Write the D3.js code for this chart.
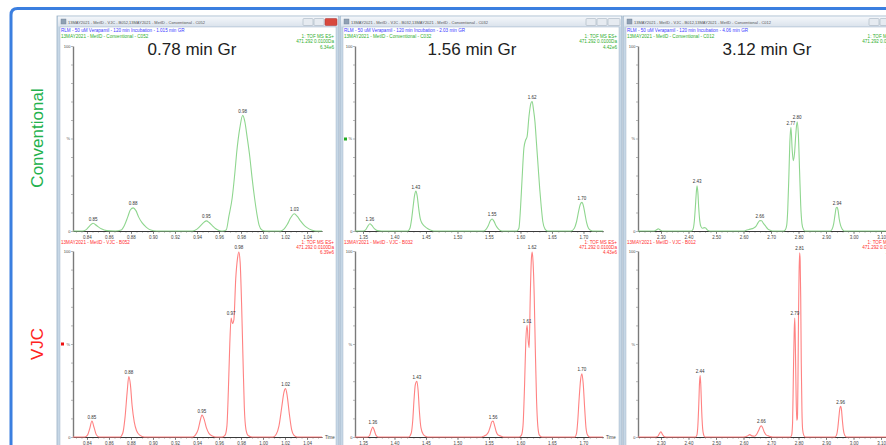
<!DOCTYPE html>
<html><head><meta charset="utf-8">
<script src="https://cdn.jsdelivr.net/npm/d3@7"></script>
<style>html,body{margin:0;padding:0;background:#fff;overflow:hidden}svg{display:block}</style>
</head><body>
<svg id="c" width="886" height="445"></svg>
<script>
// ---------------- DATA ----------------
const panelTitles = ["0.78 min Gr", "1.56 min Gr", "3.12 min Gr"];
const gradientLabels = ["1.015 min GR", "2.03 min GR", "4.06 min GR"];
const convSamples = ["C052", "C032", "C012"];
const vjcSamples = ["B052", "B032", "B012"];
const convIntensity = ["6.34e6", "4.42e6", "2.87e6"];
const vjcIntensity = ["6.39e6", "4.43e6", "2.91e6"];
const rowLabels = ["Conventional", "VJC"];
const xDomains = [[0.8273, 1.0536], [1.3373, 1.731], [2.2164, 3.169]];
const tickLabels = [
  [0.84, 0.86, 0.88, 0.90, 0.92, 0.94, 0.96, 0.98, 1.00, 1.02, 1.04],
  [1.35, 1.40, 1.45, 1.50, 1.55, 1.60, 1.65, 1.70],
  [2.30, 2.40, 2.50, 2.60, 2.70, 2.80, 2.90, 3.00, 3.10]
];
const minorSteps = [0.005, 0.01, 0.02];

const conv1 = [[0.8273,0],[0.836,0],[0.839,0.6],[0.8425,2.8],[0.8455,4.2],[0.849,2.8],[0.853,1.2],[0.858,0.2],[0.866,0],
 [0.871,0.5],[0.874,3],[0.877,7.5],[0.8795,11.5],[0.882,12.5],[0.8845,11],[0.887,7.5],[0.890,4.5],[0.894,2],[0.898,0.5],[0.903,0],
 [0.936,0],[0.940,1],[0.9435,3],[0.9465,4.8],[0.9485,5.5],[0.951,4.6],[0.954,2.8],[0.957,1.2],[0.960,0.3],[0.9635,0],
 [0.9665,0.5],[0.969,8],[0.972,18],[0.9745,32],[0.976,42],[0.979,56],[0.9815,62.5],[0.9835,59],[0.9855,51],[0.988,40],[0.990,29],[0.9925,17],[0.9945,9],[0.9965,3],[0.999,0.5],[1.002,0],
 [1.016,0],[1.019,1],[1.022,3.5],[1.025,7],[1.0285,9.3],[1.031,8],[1.034,5.5],[1.037,3.3],[1.040,1.8],[1.044,0.6],[1.048,0],[1.0536,0]];
const conv1Peaks = [[0.8455,4.2,"0.85"],[0.882,12.5,"0.88"],[0.9485,5.5,"0.95"],[0.9815,62.5,"0.98"],[1.0285,9.3,"1.03"]];

const vjc1 = [[0.8273,0],[0.838,0],[0.8405,1],[0.8425,4.5],[0.8445,8.6],[0.8465,5],[0.8485,1.2],[0.851,0],
 [0.870,0],[0.8725,2],[0.8745,10],[0.8765,24],[0.878,32.5],[0.8795,28],[0.881,17],[0.883,8],[0.885,3.5],[0.888,1],[0.892,0],
 [0.936,0],[0.9385,1],[0.941,4],[0.943,9],[0.9445,11.8],[0.9465,9.5],[0.9485,5],[0.951,1.8],[0.954,0.5],[0.957,0],
 [0.963,0],[0.9655,1],[0.9672,6],[0.9685,25],[0.9698,50],[0.9710,64],[0.9722,61],[0.9735,63],[0.9752,85],[0.9768,96],[0.9780,99.5],[0.9792,94],[0.9805,72],[0.9818,42],[0.9830,16],[0.9845,4],[0.9865,0.8],[0.990,0],
 [1.009,0],[1.012,1.5],[1.0145,6],[1.017,16],[1.019,24],[1.0205,26],[1.022,22],[1.024,12],[1.026,4],[1.028,1],[1.031,0],[1.0536,0]];
const vjc1Peaks = [[0.8445,8.6,"0.85"],[0.878,32.5,"0.88"],[0.9445,11.8,"0.95"],[0.9710,64,"0.97"],[0.978,99.5,"0.98"],[1.0205,26,"1.02"]];

const conv2 = [[1.3373,0],[1.350,0],[1.3545,0.8],[1.358,2.8],[1.361,3.9],[1.364,3],[1.368,1.3],[1.373,0.2],[1.380,0],
 [1.421,0],[1.4245,1.5],[1.427,6],[1.4295,13],[1.432,19.5],[1.434,21.6],[1.436,19],[1.4385,12],[1.441,6.5],[1.444,4],[1.448,2.5],[1.453,1.2],[1.459,0.3],[1.465,0],
 [1.541,0],[1.545,0.8],[1.549,3],[1.552,5.5],[1.555,6.5],[1.558,5.2],[1.561,3],[1.5645,1.3],[1.568,0.3],[1.573,0],
 [1.594,0],[1.5975,1.5],[1.600,12],[1.6025,28],[1.6055,45],[1.608,49],[1.6105,51],[1.6135,62],[1.6165,69],[1.6185,70],[1.6205,66],[1.623,59],[1.6255,47],[1.628,35],[1.6305,23],[1.633,13],[1.6355,5],[1.639,1],[1.643,0],
 [1.680,0],[1.6855,1.5],[1.689,5],[1.6925,11],[1.695,14.5],[1.6975,15.5],[1.700,13.5],[1.7025,9],[1.705,4.5],[1.708,1.5],[1.712,0.3],[1.716,0],[1.731,0]];
const conv2Peaks = [[1.361,3.9,"1.36"],[1.434,21.6,"1.43"],[1.555,6.5,"1.55"],[1.6185,70,"1.62"],[1.6975,15.5,"1.70"]];

const vjc2 = [[1.3373,0],[1.357,0],[1.3605,0.8],[1.363,3.5],[1.3655,5.4],[1.368,3.5],[1.3705,1],[1.374,0],
 [1.4225,0],[1.4265,2],[1.429,9],[1.431,20],[1.433,28],[1.4355,30],[1.4375,25],[1.4395,14],[1.442,5],[1.4455,1.5],[1.450,0.3],[1.455,0],
 [1.538,0],[1.5425,0.6],[1.546,1.2],[1.549,2.5],[1.552,5.5],[1.5545,8.2],[1.5565,8.6],[1.559,6],[1.5615,2.8],[1.564,1.2],[1.568,0.6],[1.573,0],
 [1.598,0],[1.6015,1],[1.604,6],[1.6065,28],[1.6085,52],[1.6105,60],[1.6122,52],[1.6138,48],[1.6155,75],[1.6172,95],[1.6185,99.5],[1.620,94],[1.6218,76],[1.6235,48],[1.6255,20],[1.6275,6],[1.630,1],[1.634,0],
 [1.686,0],[1.689,2],[1.691,9],[1.693,20],[1.6955,31],[1.6975,34],[1.6995,29],[1.702,15],[1.704,5],[1.7065,1],[1.710,0],[1.731,0]];
const vjc2Peaks = [[1.3655,5.4,"1.36"],[1.4355,30,"1.43"],[1.5565,8.6,"1.56"],[1.6105,60,"1.61"],[1.6185,99.5,"1.62"],[1.6975,34,"1.70"]];

const conv3 = [[2.2164,0],[2.275,0],[2.283,0.5],[2.290,1.2],[2.297,0.5],[2.305,0],
 [2.410,0],[2.4165,1],[2.421,5],[2.425,13],[2.428,20],[2.431,24.5],[2.434,21],[2.437,13],[2.441,5.5],[2.445,2.5],[2.451,1.5],[2.457,1.8],[2.4625,1.6],[2.469,0.5],[2.477,0],
 [2.600,0],[2.612,0.5],[2.624,1],[2.636,1.5],[2.645,2.5],[2.653,4.5],[2.6595,5.6],[2.6655,5.5],[2.673,4],[2.681,2.5],[2.689,1],[2.699,0.3],[2.710,0],
 [2.745,0],[2.752,0.6],[2.757,3],[2.761,12],[2.765,30],[2.7685,48],[2.7725,56],[2.777,44],[2.781,38],[2.7855,42],[2.790,52],[2.795,59],[2.7995,52],[2.804,32],[2.808,14],[2.8125,4],[2.8175,1],[2.824,0],
 [2.915,0],[2.922,1],[2.928,4],[2.933,9],[2.937,12.5],[2.9405,12.8],[2.944,11],[2.948,6.5],[2.953,3],[2.959,1],[2.966,0],[3.169,0]];
const conv3Peaks = [[2.431,24.5,"2.43"],[2.6595,5.6,"2.66"],[2.7725,56,"2.77"],[2.795,59,"2.80"],[2.9405,12.8,"2.94"]];

const vjc3 = [[2.2164,0],[2.280,0],[2.289,0.5],[2.295,2],[2.300,2.8],[2.305,1.5],[2.311,0.3],[2.318,0],
 [2.425,0],[2.4305,1],[2.434,6],[2.4375,18],[2.440,29],[2.4425,33],[2.445,27],[2.448,14],[2.4515,4.5],[2.455,1.2],[2.460,0],
 [2.600,0],[2.614,0.5],[2.623,1.3],[2.630,0.6],[2.640,0.4],[2.648,1.5],[2.655,3.5],[2.661,5.5],[2.665,6],[2.6695,5],[2.676,2.5],[2.683,1],[2.691,0.6],[2.698,0.2],[2.706,0],
 [2.770,0],[2.775,1],[2.7785,8],[2.7815,35],[2.7845,58],[2.7865,64],[2.7885,50],[2.791,25],[2.7935,9],[2.796,10],[2.798,30],[2.800,65],[2.802,88],[2.804,99],[2.806,95],[2.808,75],[2.810,40],[2.8125,14],[2.815,4],[2.819,1],[2.825,0],
 [2.932,0],[2.938,1],[2.943,5],[2.947,11],[2.9505,15.5],[2.9535,16.5],[2.956,15],[2.9595,9],[2.963,4],[2.968,1],[2.975,0],[3.169,0]];
const vjc3Peaks = [[2.4425,33,"2.44"],[2.665,6,"2.66"],[2.7865,64,"2.79"],[2.804,99,"2.81"],[2.9535,16.5,"2.96"]];

const convTraces = [conv1, conv2, conv3];
const vjcTraces = [vjc1, vjc2, vjc3];
const convPeaks = [conv1Peaks, conv2Peaks, conv3Peaks];
const vjcPeaks = [vjc1Peaks, vjc2Peaks, vjc3Peaks];

// ---------------- LAYOUT ----------------
const svg = d3.select("#c");
const FONT = "'Liberation Sans', Arial, sans-serif";
const winX = [57, 340, 623], winW = 282;
const axisX = [73, 355, 638], axisEnd = [322, 603, 900];
const titleX = [192, 472, 767];
const rows = [{y0: 231, y100: 46}, {y0: 437, y100: 251}];
const GREEN_TXT = "#2fae2f", RED_TXT = "#ff3030", BLUE_TXT = "#3a3aff";
const GREEN_LINE = "#8fd68f", RED_LINE = "#ff8282";

const defs = svg.append("defs");
const grad = defs.append("linearGradient").attr("id", "tb").attr("x1", 0).attr("x2", 0).attr("y1", 0).attr("y2", 1);
grad.append("stop").attr("offset", 0).attr("stop-color", "#f4f7fb");
grad.append("stop").attr("offset", 1).attr("stop-color", "#dbe3ec");
defs.append("clipPath").attr("id", "clipAll").append("rect").attr("x", 0).attr("y", 0).attr("width", 886).attr("height", 445);

// Blue frame
svg.append("path").attr("d", "M11,450 L11,15 Q11,8.5 17.5,8.5 L890,8.5")
  .attr("fill", "none").attr("stroke", "#3b7fe0").attr("stroke-width", 3);

// Row labels
[[rowLabels[0], 138, "#22b14c"], [rowLabels[1], 344, "#ff2222"]].forEach(([t, cy, col]) => {
  svg.append("text").attr("transform", `translate(43,${cy}) rotate(-90)`)
    .attr("text-anchor", "middle").attr("font-family", FONT).attr("font-size", 17)
    .attr("fill", col).text(t);
});

const line = (x, y) => d3.line().x(d => x(d[0])).y(d => y(d[1])).curve(d3.curveMonotoneX);

for (let i = 0; i < 3; i++) {
  const wx = winX[i];
  const g = svg.append("g").attr("clip-path", "url(#clipAll)");
  // window frame
  g.append("rect").attr("x", wx).attr("y", 16).attr("width", winW).attr("height", 440)
    .attr("fill", "#c6d7e6").attr("stroke", "#9db2c6").attr("stroke-width", 0.8);
  g.append("rect").attr("x", wx + 1).attr("y", 16.5).attr("width", winW - 2).attr("height", 10)
    .attr("fill", "url(#tb)");
  g.append("rect").attr("x", wx + 3).attr("y", 27).attr("width", winW - 6).attr("height", 430)
    .attr("fill", "#fff").attr("stroke", "#a7b8c9").attr("stroke-width", 0.5);
  // icon + title text
  g.append("rect").attr("x", wx + 4).attr("y", 19).attr("width", 5).attr("height", 5)
    .attr("fill", "#8fa0b4").attr("stroke", "#6d7e92").attr("stroke-width", 0.4);
  g.append("text").attr("x", wx + 11).attr("y", 23.5).attr("font-family", FONT).attr("font-size", 4)
    .attr("fill", "#555").text(`13MAY2021 - MetID - VJC - ${vjcSamples[i]},13MAY2021 - MetID - Conventional - ${convSamples[i]}`);
  // buttons
  for (let b = 0; b < 3; b++) {
    const bx = wx + winW - 36 + b * 11;
    const isClose = (i === 0 && b === 2);
    g.append("rect").attr("x", bx).attr("y", 18.5).attr("width", b === 2 ? 12 : 10).attr("height", 7).attr("rx", 1)
      .attr("fill", isClose ? "#d8493d" : "#e6ebf1").attr("stroke", isClose ? "#a33" : "#9aa8b6").attr("stroke-width", 0.5);
  }
  // header texts
  g.append("text").attr("x", wx + 4).attr("y", 31.5).attr("font-family", FONT).attr("font-size", 4.6)
    .attr("fill", BLUE_TXT).text(`RLM - 50 uM Verapamil - 120 min Incubation - ${gradientLabels[i]}`);
  g.append("text").attr("x", wx + 4).attr("y", 37.5).attr("font-family", FONT).attr("font-size", 4.6)
    .attr("fill", GREEN_TXT).text(`13MAY2021 - MetID - Conventional - ${convSamples[i]}`);
  ["1: TOF MS ES+", "471.292 0.0100Da", convIntensity[i]].forEach((t, k) => {
    g.append("text").attr("x", wx + winW - 5).attr("y", 37.5 + k * 5.5).attr("text-anchor", "end")
      .attr("font-family", FONT).attr("font-size", 4.6).attr("fill", GREEN_TXT).text(t);
  });
  g.append("text").attr("x", wx + 4).attr("y", 243.5).attr("font-family", FONT).attr("font-size", 4.6)
    .attr("fill", RED_TXT).text(`13MAY2021 - MetID - VJC - ${vjcSamples[i]}`);
  ["1: TOF MS ES+", "471.292 0.0100Da", vjcIntensity[i]].forEach((t, k) => {
    g.append("text").attr("x", wx + winW - 5).attr("y", 243.5 + k * 5).attr("text-anchor", "end")
      .attr("font-family", FONT).attr("font-size", 4.6).attr("fill", RED_TXT).text(t);
  });
  // big title
  g.append("text").attr("x", titleX[i]).attr("y", 55).attr("text-anchor", "middle")
    .attr("font-family", FONT).attr("font-size", 17).attr("fill", "#222").text(panelTitles[i]);

  const x = d3.scaleLinear().domain(xDomains[i]).range([axisX[i], axisEnd[i]]);
  const minor = d3.range(Math.ceil(xDomains[i][0] / minorSteps[i]) * minorSteps[i], xDomains[i][1], minorSteps[i]);

  rows.forEach((r, ri) => {
    const y = d3.scaleLinear().domain([0, 100]).range([r.y0, r.y100]);
    // y axis
    const ya = g.append("g").attr("transform", `translate(${axisX[i]},0)`)
      .call(d3.axisLeft(y).tickValues(d3.range(0, 101, 10)).tickSize(2).tickSizeOuter(0)
        .tickFormat(d => (d === 0 || d === 100) ? d : ""));
    ya.select(".domain").attr("stroke", "#7a7a7a").attr("stroke-width", 1.4);
    ya.selectAll(".tick line").attr("stroke", "#888").attr("stroke-width", 0.6);
    ya.selectAll("text").attr("font-family", FONT).attr("font-size", 4).attr("fill", "#444").attr("x", -2.5);
    g.append("text").attr("x", axisX[i] - 3).attr("y", (r.y0 + r.y100) / 2 + 1.5).attr("text-anchor", "end")
      .attr("font-family", FONT).attr("font-size", 4).attr("fill", "#555").text("%");
    // x axis minor
    const xm = g.append("g").attr("transform", `translate(0,${r.y0})`)
      .call(d3.axisBottom(x).tickValues(minor).tickSize(1.6).tickSizeOuter(0).tickFormat(""));
    xm.select(".domain").remove();
    xm.selectAll(".tick line").attr("stroke", "#555").attr("stroke-width", 0.5);
    // x axis major
    const xa = g.append("g").attr("transform", `translate(0,${r.y0})`)
      .call(d3.axisBottom(x).tickValues(tickLabels[i]).tickSize(3).tickSizeOuter(0).tickPadding(1.5).tickFormat(d3.format(".2f")));
    xa.select(".domain").attr("stroke", "#3a3a3a").attr("stroke-width", 1);
    xa.selectAll(".tick line").attr("stroke", "#444").attr("stroke-width", 0.6);
    xa.selectAll("text").attr("font-family", FONT).attr("font-size", 4.5).attr("fill", "#444");
    if (ri === 1) {
      g.append("text").attr("x", axisEnd[i] + 3).attr("y", r.y0 + 1.5).attr("font-family", FONT)
        .attr("font-size", 4.5).attr("fill", "#444").text("Time");
    }
    // trace
    const data = ri === 0 ? convTraces[i] : vjcTraces[i];
    g.append("path").datum(data).attr("d", line(x, y)).attr("fill", "none")
      .attr("stroke", ri === 0 ? GREEN_LINE : RED_LINE).attr("stroke-width", 1.1).attr("stroke-linejoin", "round");
    // peak labels
    const pk = ri === 0 ? convPeaks[i] : vjcPeaks[i];
    g.selectAll(null).data(pk).enter().append("text")
      .attr("x", d => x(d[0])).attr("y", d => y(d[1]) - 2.5).attr("text-anchor", "middle")
      .attr("font-family", FONT).attr("font-size", 4.5).attr("fill", "#333").text(d => d[2]);
  });
}
// small channel markers
svg.append("rect").attr("x", 344).attr("y", 137.5).attr("width", 3).attr("height", 3).attr("fill", "#22aa22");
svg.append("rect").attr("x", 61).attr("y", 342.5).attr("width", 3).attr("height", 3).attr("fill", "#ee1111");
</script>
</body></html>
